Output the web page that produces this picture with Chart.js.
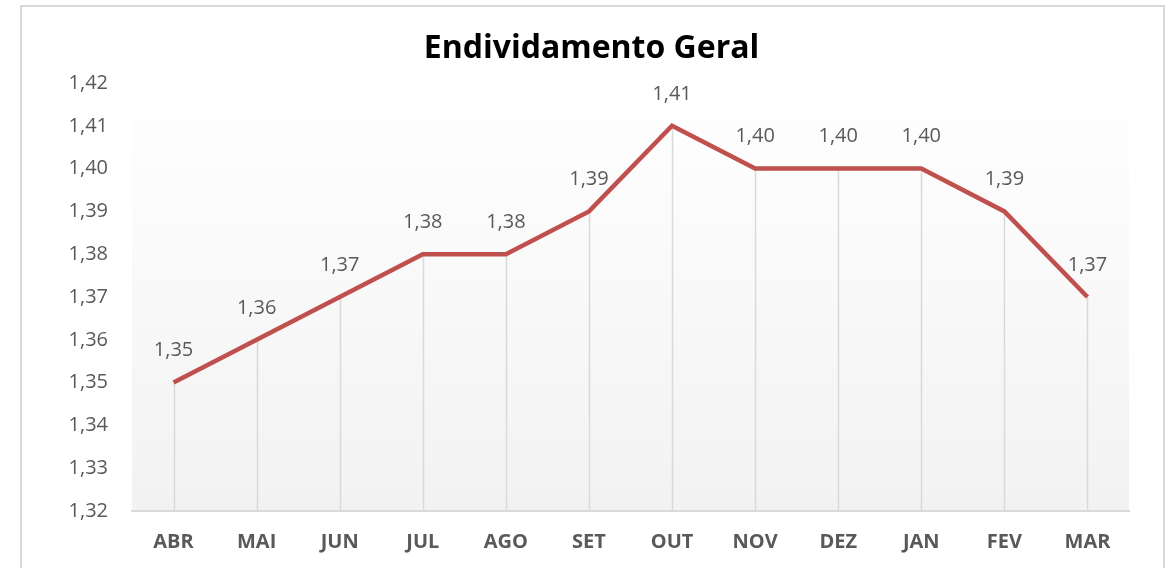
<!DOCTYPE html>
<html>
<head>
<meta charset="utf-8">
<script src="https://cdn.jsdelivr.net/npm/chart.js@4.4.1/dist/chart.umd.min.js"></script>
<style>
html,body{margin:0;padding:0;background:#fff;}
#wrap{position:relative;width:1173px;height:568px;}
canvas{display:block;}
</style>
</head>
<body>
<div id="wrap"><canvas id="c" width="1173" height="568"></canvas></div>
<script>
const titleText = "Endividamento Geral";
const categories = ["ABR","MAI","JUN","JUL","AGO","SET","OUT","NOV","DEZ","JAN","FEV","MAR"];
const values = [1.35,1.36,1.37,1.38,1.38,1.39,1.41,1.40,1.40,1.40,1.39,1.37];
const yMin = 1.32, yMax = 1.42, yStep = 0.01;

const FONT = "'Open Sans', 'Liberation Sans', sans-serif";
const fmt = v => v.toFixed(2).replace('.', ',');

const framePlugin = {
  id: 'frame',
  beforeDraw(chart) {
    const ctx = chart.ctx;
    ctx.save();
    ctx.fillStyle = '#ffffff';
    ctx.fillRect(0, 0, chart.width, chart.height);
    ctx.strokeStyle = '#d9d9d9';
    ctx.lineWidth = 2;
    ctx.strokeRect(21, 6, 1143, 600);
    const a = chart.chartArea;
    const g = ctx.createLinearGradient(0, a.top, 0, a.bottom);
    g.addColorStop(0, '#ffffff');
    g.addColorStop(1, '#f2f2f2');
    ctx.fillStyle = g;
    ctx.fillRect(a.left, a.top, a.right - a.left, a.bottom - a.top);
    ctx.restore();
  },
  beforeDatasetsDraw(chart) {
    const ctx = chart.ctx;
    const meta = chart.getDatasetMeta(0);
    const yS = chart.scales.y;
    ctx.save();
    ctx.strokeStyle = '#d9d9d9';
    ctx.lineWidth = 1.5;
    meta.data.forEach(pt => {
      ctx.beginPath();
      ctx.moveTo(Math.round(pt.x) + 0.5, pt.y);
      ctx.lineTo(Math.round(pt.x) + 0.5, yS.bottom);
      ctx.stroke();
    });
    ctx.restore();
  },
  afterDatasetsDraw(chart) {
    const ctx = chart.ctx;
    const meta = chart.getDatasetMeta(0);
    ctx.save();
    ctx.fillStyle = '#595959';
    ctx.font = '20px ' + FONT;
    ctx.textAlign = 'center';
    ctx.textBaseline = 'middle';
    meta.data.forEach((pt, i) => {
      ctx.fillText(fmt(values[i]), pt.x, pt.y - 32);
    });
    ctx.restore();
  }
};

new Chart(document.getElementById('c'), {
  type: 'line',
  data: {
    labels: categories,
    datasets: [{
      data: values,
      yAxisID: 'y',
      borderColor: '#C0504D',
      borderWidth: 4.5,
      pointRadius: 0,
      pointHoverRadius: 0,
      tension: 0,
      fill: false
    }]
  },
  options: {
    responsive: false,
    animation: false,
    events: [],
    layout: { padding: { left: 42, right: 32, top: 0, bottom: 0 } },
    plugins: {
      legend: { display: false },
      tooltip: { enabled: false },
      title: {
        display: true,
        text: titleText,
        color: '#000000',
        font: { family: FONT, size: 32, weight: 'bold', lineHeight: 1 },
        padding: { top: 33, bottom: 18 }
      }
    },
    scales: {
      x: {
        offset: true,
        afterFit(scale) { scale.height = 57; },
        grid: { display: false, drawTicks: false },
        border: { display: true, color: '#d9d9d9', width: 2 },
        ticks: { color: '#595959', font: { family: FONT, size: 20, weight: 'bold' }, padding: 19, maxRotation: 0 }
      },
      y: {
        min: yMin, max: yMax,
        afterFit(scale) { scale.width = 90; },
        grid: { display: false, drawTicks: false },
        border: { display: false },
        ticks: {
          stepSize: yStep,
          color: '#595959',
          font: { family: FONT, size: 20 },
          padding: 24,
          callback: v => fmt(v)
        }
      },
      yRight: {
        position: 'right',
        min: yMin, max: yMax,
        afterFit(scale) { scale.width = 12; },
        grid: { display: false, drawTicks: false },
        border: { display: false },
        ticks: { display: false }
      }
    }
  },
  plugins: [framePlugin]
});
</script>
</body>
</html>
